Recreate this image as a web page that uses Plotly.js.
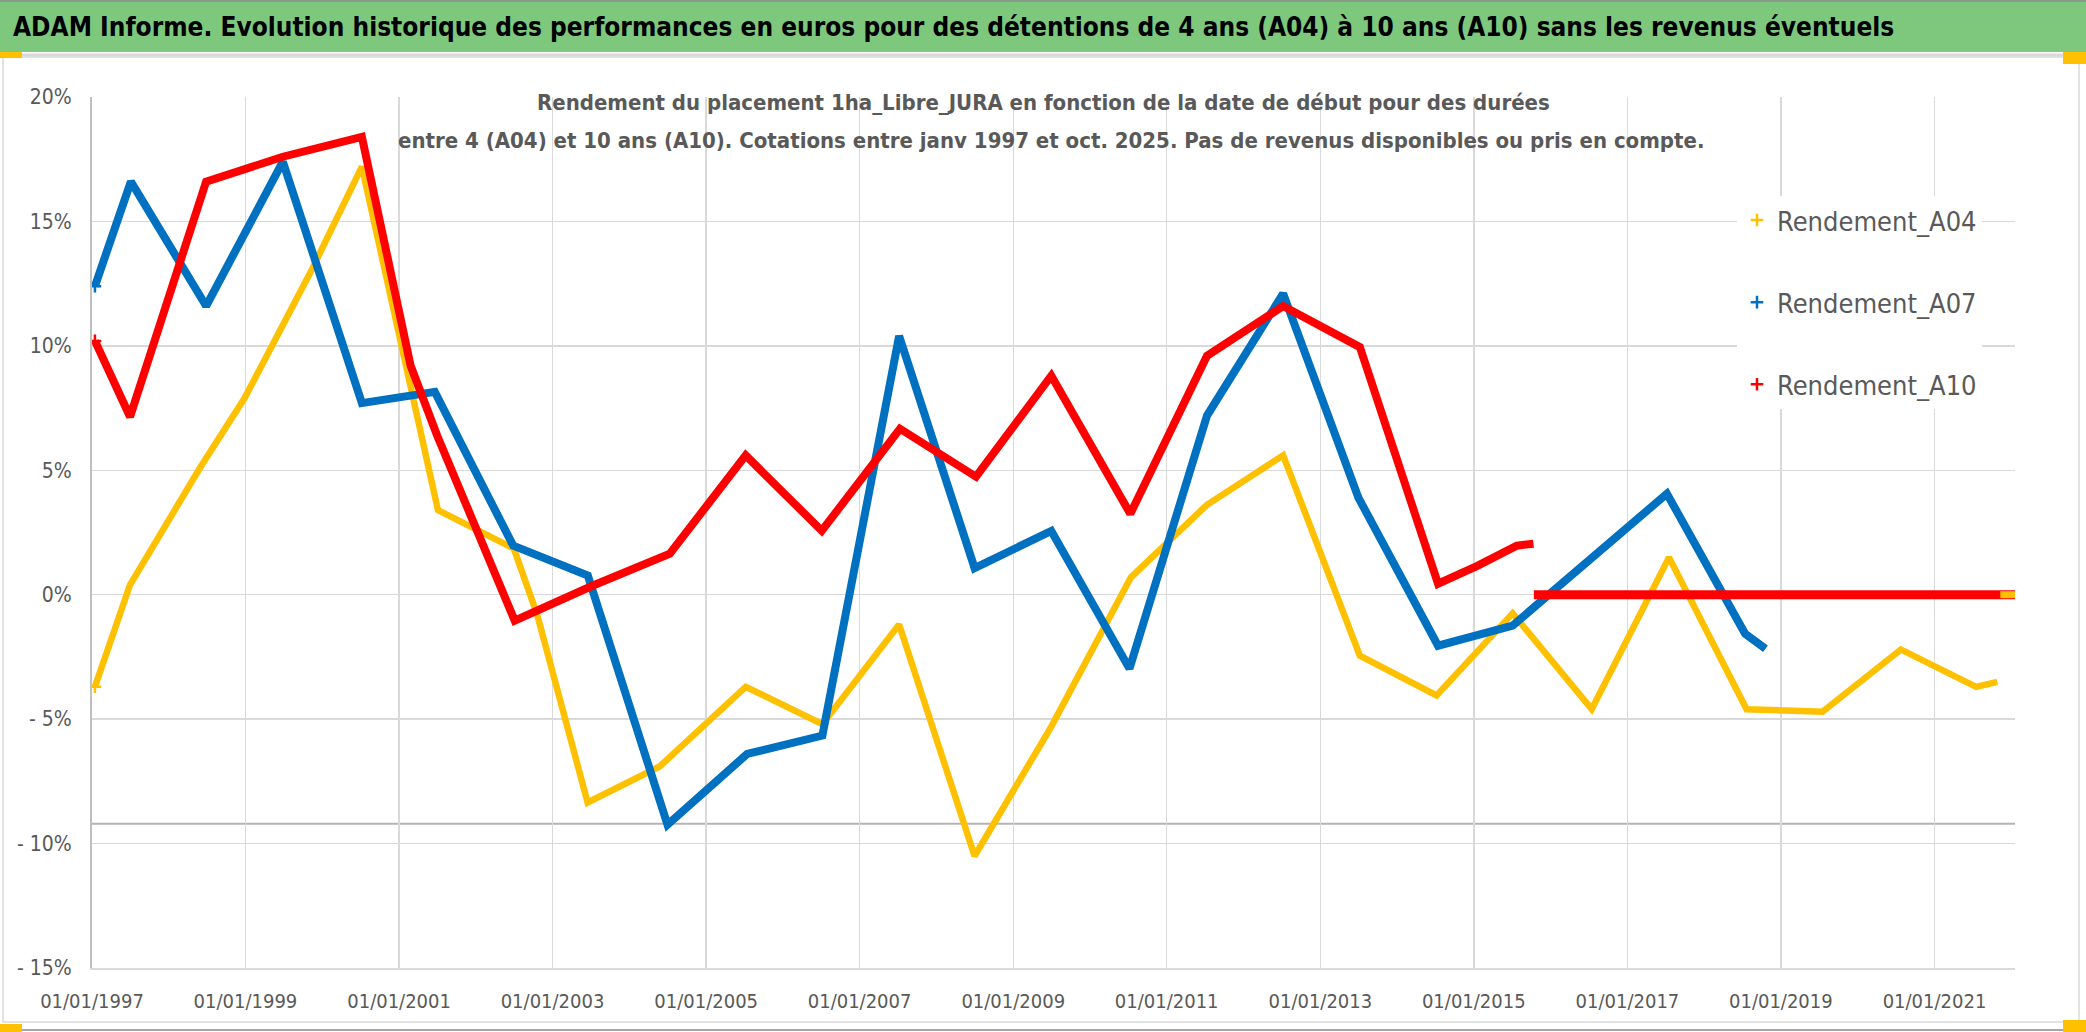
<!DOCTYPE html>
<html>
<head>
<meta charset="utf-8">
<script src="https://cdn.plot.ly/plotly-3.0.1.min.js"></script>
<style>
  html, body { margin: 0; padding: 0; background: #ffffff; }
  #chart { width: 2086px; height: 1032px; }
</style>
</head>
<body>
<div id="chart"></div>
<script>
// ---------------- DATA ----------------
const seriesNames = ['Rendement_A04', 'Rendement_A07', 'Rendement_A10'];
const seriesColors = ['#FFC000', '#0070C0', '#FF0000'];

// A04 (yellow), values in %
const a04Dates = ['1997-01-15','1997-07-01','1998-05-30','1998-12-28','1999-11-15','2000-07-08','2001-07-05','2002-07-01','2002-10-20','2003-06-17','2004-05-25','2005-07-08','2006-07-08','2007-07-08','2008-07-01','2009-07-01','2010-07-15','2011-07-10','2012-07-08','2013-06-15','2013-07-08','2014-07-08','2015-07-05','2016-07-15','2017-07-18','2018-07-22','2019-07-18','2020-07-25','2021-07-18','2021-10-27'];
const a04Values = [-3.7,0.4,5.1,7.9,13.1,17.2,3.4,1.85,-0.8,-8.35,-6.9,-3.7,-5.2,-1.2,-10.5,-5.3,0.7,3.6,5.6,-2.05,-2.45,-4.05,-0.75,-4.6,1.5,-4.6,-4.7,-2.2,-3.7,-3.5];
const a04ZeroDates = ['2021-11-10','2022-01-19'];
const a04ZeroValues = [0, 0];

// A07 (blue)
const a07Dates = ['1997-01-15','1997-07-05','1998-06-28','1999-06-28','2000-07-08','2001-06-20','2002-06-28','2003-06-18','2004-07-01','2005-07-15','2006-07-08','2007-07-08','2008-07-01','2009-07-01','2010-07-08','2011-07-12','2012-07-08','2013-07-01','2014-07-15','2015-07-05','2017-07-08','2018-03-28','2018-07-15','2018-10-20'];
const a07Values = [12.4,16.6,11.6,17.4,7.7,8.15,1.97,0.77,-9.24,-6.4,-5.66,10.4,1.07,2.56,-2.97,7.2,12.1,3.9,-2.05,-1.24,4.06,0.16,-1.57,-2.17];

// A10 (red)
const a10Dates = ['1997-01-15','1997-07-01','1998-06-28','1999-06-28','2000-07-08','2001-02-25','2001-07-01','2002-07-05','2003-07-10','2004-07-12','2005-07-08','2006-07-05','2007-07-12','2008-07-08','2009-07-01','2010-07-12','2011-07-12','2012-07-08','2013-07-08','2014-07-15','2015-01-18','2015-07-25','2015-10-12'];
const a10Values = [10.2,7.15,16.6,17.6,18.4,9.2,6.4,-1.04,0.36,1.65,5.6,2.57,6.67,4.74,8.8,3.25,9.6,11.6,9.95,0.44,1.16,1.97,2.05];
const a10ZeroDates = ['2015-10-14','2022-01-19'];
const a10ZeroValues = [0, 0];

// Axis ticks
const xTickVals = ['1997-01-01','1999-01-01','2001-01-01','2003-01-01','2005-01-01','2007-01-01','2009-01-01','2011-01-01','2013-01-01','2015-01-01','2017-01-01','2019-01-01','2021-01-01'];
const xTickText = ['01/01/1997','01/01/1999','01/01/2001','01/01/2003','01/01/2005','01/01/2007','01/01/2009','01/01/2011','01/01/2013','01/01/2015','01/01/2017','01/01/2019','01/01/2021'];
const yTickVals = [-15,-10,-5,0,5,10,15,20];
const yTickText = ['- 15%','- 10%','- 5%','0%','5%','10%','15%','20%'];
const xRange = ['1997-01-01','2022-01-19'];
const yRange = [-15, 20];
const refLine = [-9.2];

const titleText = 'ADAM Informe. Evolution historique des performances en euros pour des détentions de 4 ans (A04) à 10 ans (A10) sans les revenus éventuels';
const subtitleLines = ['Rendement du placement 1ha_Libre_JURA en fonction de la date de début pour des durées',
                       'entre 4 (A04) et 10 ans (A10). Cotations entre janv 1997 et oct. 2025. Pas de revenus disponibles ou pris en compte.'];

// ---------------- LAYOUT HELPERS ----------------
const W = 2086, H = 1032;
const M = {l: 92, r: 71, t: 97, b: 64};
const PW = W - M.l - M.r, PH = H - M.t - M.b;
const px2x = p => (p - M.l) / PW;
const px2y = p => (H - M.b - p) / PH;
const NARROW = '"Liberation Sans Narrow", "DejaVu Sans Condensed", "Arial Narrow", sans-serif';
const GRAY = '#595959';

function lineTrace(x, y, color, width) {
  return {x: x, y: y, type: 'scatter', mode: 'lines', showlegend: false, hoverinfo: 'skip',
          line: {color: color, width: width}};
}
function legendTrace(x, y, name, color, group) {
  return {x: [x], y: [y], type: 'scatter', mode: 'markers', name: name, legendgroup: group, hoverinfo: 'skip',
          marker: {symbol: 'cross-thin', size: 9, color: color, line: {color: color, width: 2.5}}};
}

const traces = [
  lineTrace(a04Dates, a04Values, seriesColors[0], 6.5),
  lineTrace(a07Dates, a07Values, seriesColors[1], 8),
  lineTrace(a10Dates, a10Values, seriesColors[2], 8),
  lineTrace(a10ZeroDates, a10ZeroValues, seriesColors[2], 9),
  lineTrace(a04ZeroDates, a04ZeroValues, seriesColors[0], 7),
  legendTrace(a04Dates[0], a04Values[0], seriesNames[0], seriesColors[0], 'g1'),
  legendTrace(a07Dates[0], a07Values[0], seriesNames[1], seriesColors[1], 'g2'),
  legendTrace(a10Dates[0], a10Values[0], seriesNames[2], seriesColors[2], 'g3')
];

const shapes = [
  // green title band
  {type: 'rect', xref: 'paper', yref: 'paper', x0: px2x(0), x1: px2x(W), y0: px2y(52), y1: px2y(0),
   fillcolor: '#7ec87e', line: {width: 0}, layer: 'below'},
  {type: 'line', xref: 'paper', yref: 'paper', x0: px2x(0), x1: px2x(W), y0: px2y(1), y1: px2y(1),
   line: {color: '#8a9a8a', width: 2}},
  {type: 'line', xref: 'paper', yref: 'paper', x0: px2x(0), x1: px2x(W), y0: px2y(55), y1: px2y(55),
   line: {color: '#d9d9d9', width: 3}},
  // chart area frame
  {type: 'rect', xref: 'paper', yref: 'paper', x0: px2x(3), x1: px2x(2079), y0: px2y(1022), y1: px2y(57),
   line: {color: '#d9d9d9', width: 1.5}, fillcolor: 'rgba(0,0,0,0)', layer: 'below'},
  {type: 'line', xref: 'paper', yref: 'paper', x0: px2x(0), x1: px2x(W), y0: px2y(1030), y1: px2y(1030),
   line: {color: '#a6a6a6', width: 2}},
  // selection handles
  {type: 'rect', xref: 'paper', yref: 'paper', x0: px2x(0), x1: px2x(22), y0: px2y(58), y1: px2y(52),
   fillcolor: '#FFC000', line: {width: 0}},
  {type: 'rect', xref: 'paper', yref: 'paper', x0: px2x(2063), x1: px2x(W), y0: px2y(64), y1: px2y(52),
   fillcolor: '#FFC000', line: {width: 0}},
  {type: 'rect', xref: 'paper', yref: 'paper', x0: px2x(0), x1: px2x(22), y0: px2y(1032), y1: px2y(1024),
   fillcolor: '#FFC000', line: {width: 0}},
  {type: 'rect', xref: 'paper', yref: 'paper', x0: px2x(2063), x1: px2x(W), y0: px2y(1032), y1: px2y(1020),
   fillcolor: '#FFC000', line: {width: 0}},
  // white boxes behind subtitle and legend
  {type: 'rect', xref: 'paper', yref: 'paper', x0: px2x(386), x1: px2x(1693), y0: px2y(165), y1: px2y(80),
   fillcolor: '#ffffff', line: {width: 0}, layer: 'between'},
  {type: 'rect', xref: 'paper', yref: 'paper', x0: px2x(1702), x1: 1, y0: px2y(422), y1: px2y(182),
   fillcolor: '#ffffff', line: {width: 0}, layer: 'between'},
  // extra horizontal line
  {type: 'line', xref: 'paper', yref: 'y', x0: 0, x1: 1, y0: refLine[0], y1: refLine[0],
   line: {color: '#b4b4b4', width: 2}, layer: 'between'}
];

const layout = {
  width: W, height: H,
  margin: M,
  paper_bgcolor: '#ffffff',
  plot_bgcolor: '#ffffff',
  showlegend: true,
  title: {
    text: '<b>' + titleText + '</b>',
    font: {family: NARROW, size: 26, color: '#000000'},
    xref: 'container', x: 13 / W, xanchor: 'left',
    yref: 'container', y: 1 - 27 / H, yanchor: 'middle'
  },
  xaxis: {
    type: 'date', range: xRange,
    tickmode: 'array', tickvals: xTickVals, ticktext: xTickText,
    showgrid: true, gridcolor: '#d9d9d9', gridwidth: 1.5,
    zeroline: false, showline: true, linecolor: '#d9d9d9', linewidth: 2,
    ticks: '', ticklabelstandoff: 14,
    tickfont: {family: NARROW, size: 20, color: GRAY},
    fixedrange: true
  },
  yaxis: {
    range: yRange,
    tickmode: 'array', tickvals: yTickVals, ticktext: yTickText,
    showgrid: true, gridcolor: '#d9d9d9', gridwidth: 1.5,
    zeroline: false, showline: true, linecolor: '#bfbfbf', linewidth: 2,
    ticks: '', ticklabelstandoff: 14,
    tickfont: {family: NARROW, size: 21, color: GRAY},
    fixedrange: true
  },
  legend: {
    x: px2x(1737), xanchor: 'left',
    y: px2y(196), yanchor: 'top',
    bgcolor: '#ffffff', borderwidth: 0,
    font: {family: NARROW, size: 27, color: GRAY},
    traceorder: 'grouped', tracegroupgap: 44
  },
  shapes: shapes,
  annotations: [
    {xref: 'paper', yref: 'paper', x: px2x(1043), y: px2y(103), xanchor: 'center', yanchor: 'middle',
     text: '<b>' + subtitleLines[0] + '</b>', showarrow: false,
     font: {family: NARROW, size: 22, color: GRAY}},
    {xref: 'paper', yref: 'paper', x: px2x(1051), y: px2y(140), xanchor: 'center', yanchor: 'middle',
     text: '<b>' + subtitleLines[1] + '</b>', showarrow: false,
     font: {family: NARROW, size: 22, color: GRAY}}
  ]
};

Plotly.newPlot('chart', traces, layout, {staticPlot: true, displayModeBar: false});
</script>
</body>
</html>
